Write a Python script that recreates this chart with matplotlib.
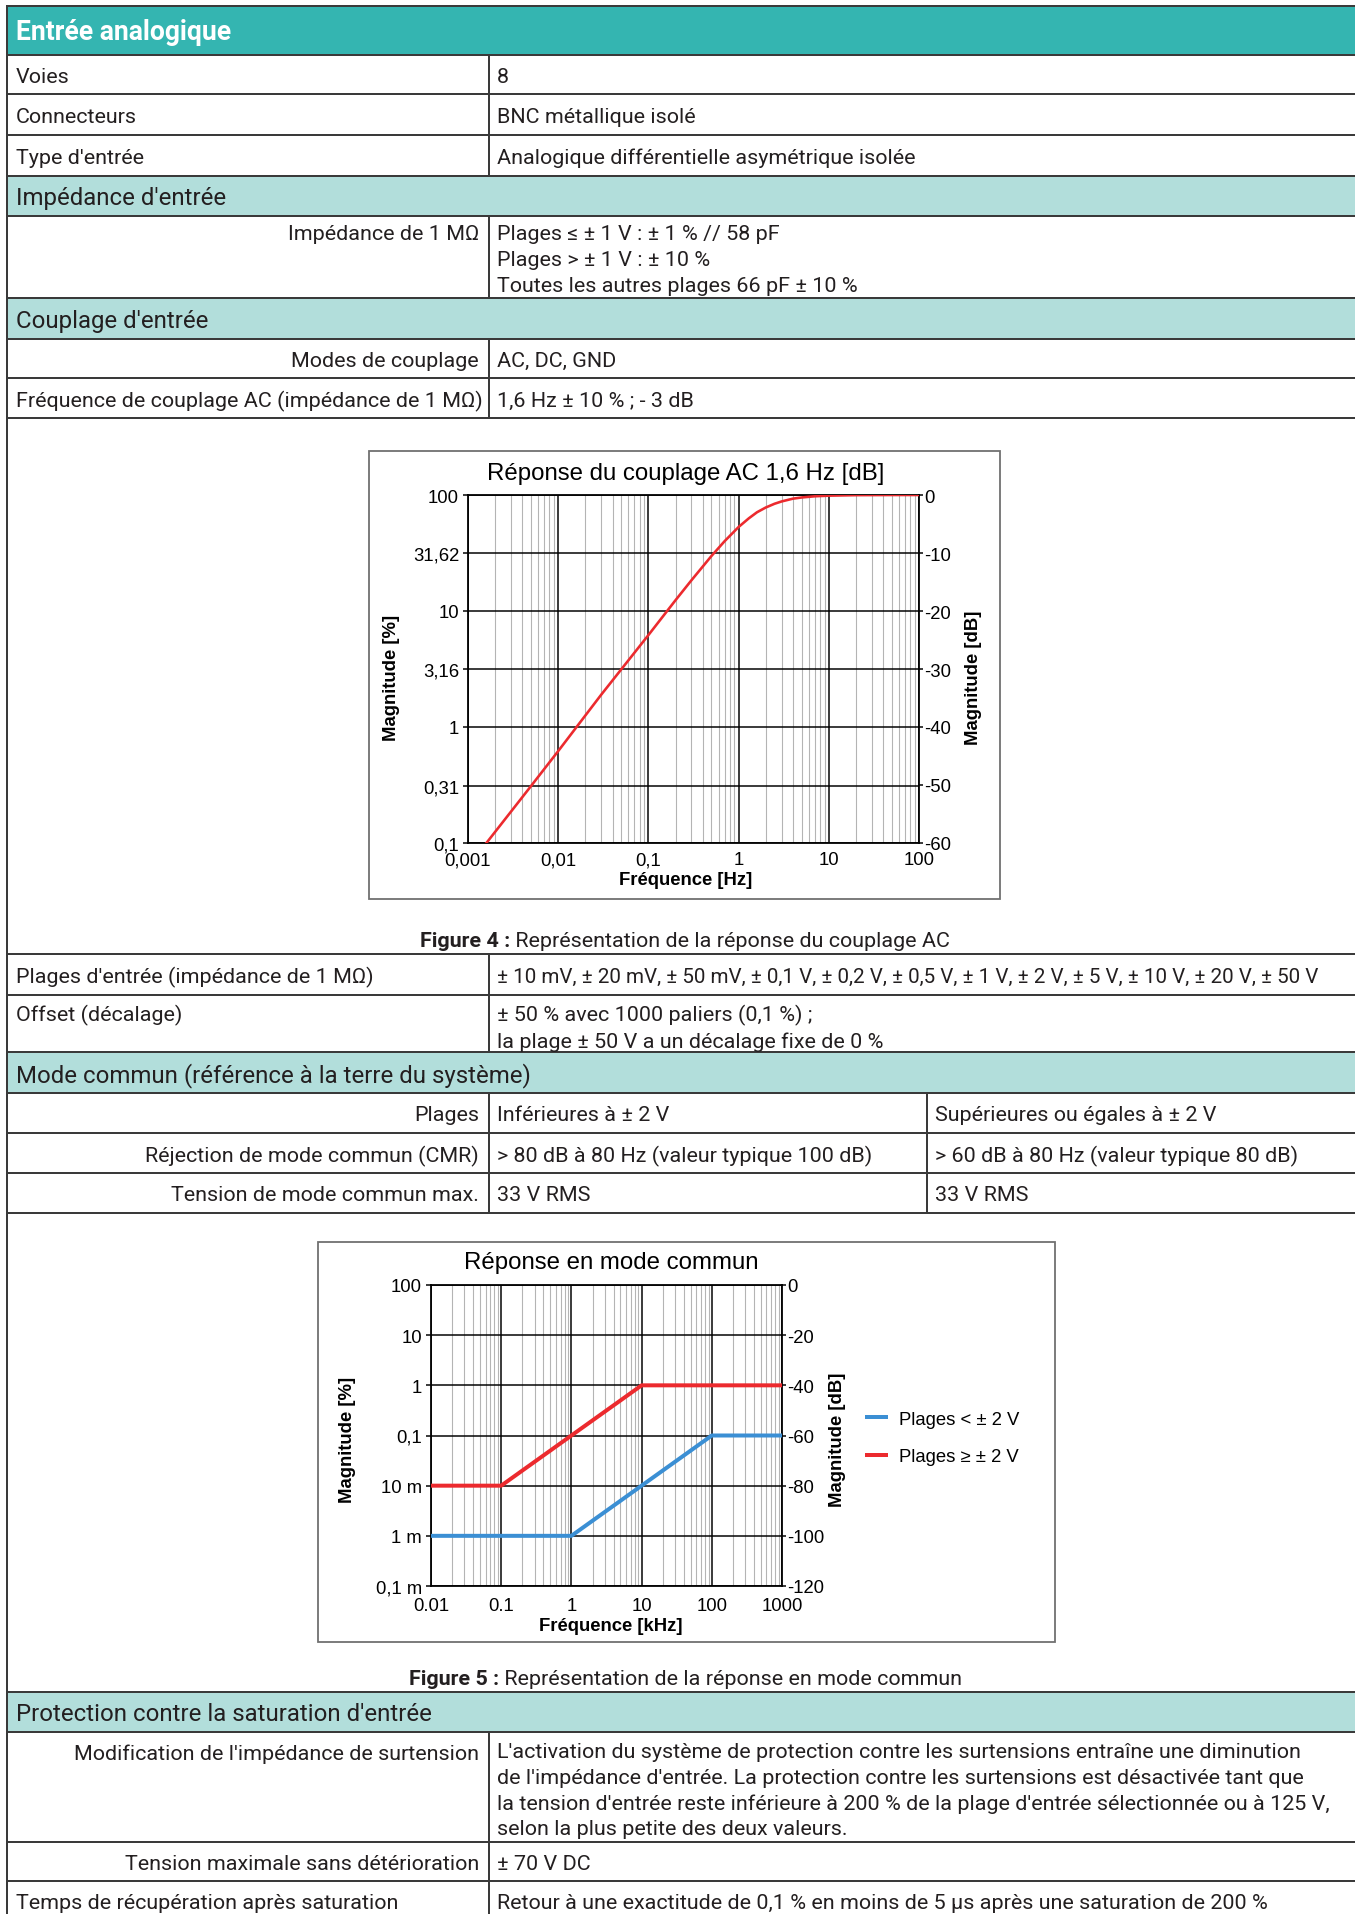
import matplotlib
matplotlib.use("Agg")
import matplotlib.pyplot as plt
from matplotlib.patches import Rectangle
from matplotlib.ticker import FixedLocator, LogLocator, NullFormatter, NullLocator

W, H = 1355, 1915
DPI = 100

# --- Figure 4 : réponse du couplage AC ---
freq_ac = [0.0016, 0.005, 0.01, 0.03, 0.1, 0.2, 0.3, 0.5, 0.7, 1.0, 1.3, 1.6,
           2.0, 2.5, 3.0, 4.0, 5.0, 7.0, 10, 20, 50, 100]
mag_ac = [0.1, 0.31, 0.62, 1.9, 6.2, 12.4, 18.4, 29.8, 40, 53, 63, 71,
          78, 84, 88, 93, 95.2, 97.5, 98.7, 99.7, 99.95, 100]
ac_xticks = [0.001, 0.01, 0.1, 1, 10, 100]
ac_xlabels = ["0,001", "0,01", "0,1", "1", "10", "100"]
ac_yticks = [0.1, 0.31, 1, 3.16, 10, 31.62, 100]
ac_ylabels = ["0,1", "0,31", "1", "3,16", "10", "31,62", "100"]
ac_db = [-60, -50, -40, -30, -20, -10, 0]

# --- Figure 5 : réponse en mode commun ---
freq_cm = [0.01, 0.1, 1, 10, 100, 1000]
cm_bas = [0.001, 0.001, 0.001, 0.01, 0.1, 0.1]     # Plages < ± 2 V
cm_haut = [0.01, 0.01, 0.1, 1, 1, 1]               # Plages ≥ ± 2 V
cm_xlabels = ["0.01", "0.1", "1", "10", "100", "1000"]
cm_yticks = [1e-4, 1e-3, 1e-2, 0.1, 1, 10, 100]
cm_ylabels = ["0,1 m", "1 m", "10 m", "0,1", "1", "10", "100"]
cm_db = [-120, -100, -80, -60, -40, -20, 0]
cm_legende = ["Plages < ± 2 V", "Plages ≥ ± 2 V"]

TEAL = "#34b5b1"
TEAL_CLAIR = "#b2dedb"
TRAIT = "#3a3a3a"
TEXTE = "#231f20"
ROUGE = "#ec2a2e"
BLEU = "#3b8fd4"
X0, C1, C2 = 7, 489, 927
POLICE = ["Roboto", "DejaVu Sans"]
POLICE_GRAPHE = ["Liberation Sans", "DejaVu Sans"]
CORPS = 21.5      # taille du texte du tableau (px)
SECTION = 24


def pt(px):
    return px * 72 / DPI


fig = plt.figure(figsize=(W / DPI, H / DPI), dpi=DPI)
fond = fig.add_axes([0, 0, 1, 1])
fond.set_xlim(0, W)
fond.set_ylim(H, 0)
fond.axis("off")


def bande(y0, y1, couleur):
    fond.add_patch(Rectangle((X0, y0), W - X0, y1 - y0, facecolor=couleur, edgecolor="none"))


def txt(x, y, s, ha="left", size=CORPS, **kw):
    kw.setdefault("color", TEXTE)
    fond.text(x, y + 2, s, ha=ha, va="center", fontsize=pt(size), family=POLICE, **kw)


# bandes de couleur
bande(7, 56, TEAL)
for y0, y1 in [(177, 217), (299, 340), (1053, 1094), (1693, 1733)]:
    bande(y0, y1, TEAL_CLAIR)

# traits du tableau
lw_t = pt(2)
for y in [7, 56, 95, 136, 177, 217, 299, 340, 379, 419, 955, 996, 1053,
          1094, 1134, 1174, 1214, 1693, 1733, 1843, 1882]:
    fond.plot([X0, W], [y, y], color=TRAIT, lw=lw_t, solid_capstyle="butt")
fond.plot([X0, X0], [7, H], color=TRAIT, lw=lw_t)
for y0, y1 in [(56, 177), (217, 299), (340, 419), (955, 1053), (1094, 1214), (1733, H)]:
    fond.plot([C1, C1], [y0, y1], color=TRAIT, lw=lw_t)
fond.plot([C2, C2], [1094, 1214], color=TRAIT, lw=lw_t)

# textes du tableau
GX, DX, TX, RX = 16, 497, 935, 479
txt(GX, 30, "Entrée analogique", size=26.5, weight="bold", color="white")
txt(GX, 75.5, "Voies"); txt(DX, 75.5, "8")
txt(GX, 115.5, "Connecteurs"); txt(DX, 115.5, "BNC métallique isolé")
txt(GX, 156.5, "Type d'entrée"); txt(DX, 156.5, "Analogique différentielle asymétrique isolée")
txt(GX, 197, "Impédance d'entrée", size=SECTION)
txt(RX, 233, "Impédance de 1 MΩ", ha="right")
txt(DX, 233, "Plages ≤ ± 1 V : ± 1 % // 58 pF")
txt(DX, 259, "Plages > ± 1 V : ± 10 %")
txt(DX, 285, "Toutes les autres plages 66 pF ± 10 %")
txt(GX, 319.5, "Couplage d'entrée", size=SECTION)
txt(RX, 359.5, "Modes de couplage", ha="right"); txt(DX, 359.5, "AC, DC, GND")
txt(GX, 399, "Fréquence de couplage AC (impédance de 1 MΩ)")
txt(DX, 399, "1,6 Hz ± 10 % ; - 3 dB")
txt(GX, 975.5, "Plages d'entrée (impédance de 1 MΩ)")
txt(DX, 975.5, "± 10 mV, ± 20 mV, ± 50 mV, ± 0,1 V, ± 0,2 V, ± 0,5 V, ± 1 V, ± 2 V, ± 5 V, ± 10 V, ± 20 V, ± 50 V",
    size=20.7)
txt(GX, 1013, "Offset (décalage)")
txt(DX, 1013, "± 50 % avec 1000 paliers (0,1 %) ;")
txt(DX, 1040, "la plage ± 50 V a un décalage fixe de 0 %")
txt(GX, 1073.5, "Mode commun (référence à la terre du système)", size=SECTION)
txt(RX, 1114, "Plages", ha="right")
txt(DX, 1114, "Inférieures à ± 2 V"); txt(TX, 1114, "Supérieures ou égales à ± 2 V")
txt(RX, 1154, "Réjection de mode commun (CMR)", ha="right")
txt(DX, 1154, "> 80 dB à 80 Hz (valeur typique 100 dB)")
txt(TX, 1154, "> 60 dB à 80 Hz (valeur typique 80 dB)")
txt(RX, 1194, "Tension de mode commun max.", ha="right")
txt(DX, 1194, "33 V RMS"); txt(TX, 1194, "33 V RMS")
txt(GX, 1713, "Protection contre la saturation d'entrée", size=SECTION)
txt(RX, 1752, "Modification de l'impédance de surtension", ha="right")
for i, ligne in enumerate([
        "L'activation du système de protection contre les surtensions entraîne une diminution",
        "de l'impédance d'entrée. La protection contre les surtensions est désactivée tant que",
        "la tension d'entrée reste inférieure à 200 % de la plage d'entrée sélectionnée ou à 125 V,",
        "selon la plus petite des deux valeurs."]):
    txt(DX, 1751 + i * 25.4, ligne)
txt(RX, 1862.5, "Tension maximale sans détérioration", ha="right")
txt(DX, 1862.5, "± 70 V DC")
txt(GX, 1902, "Temps de récupération après saturation")
txt(DX, 1902, "Retour à une exactitude de 0,1 % en moins de 5 µs après une saturation de 200 %")

# légendes des figures
for x, y, num, suite in [(420, 940, "Figure 4 :", " Représentation de la réponse du couplage AC"),
                         (409, 1678, "Figure 5 :", " Représentation de la réponse en mode commun")]:
    t = fond.text(x, y + 2, num, ha="left", va="center", fontsize=pt(CORPS),
                  family=POLICE, weight="bold", color=TEXTE)
    fond.annotate(suite, xy=(1, 0.5), xycoords=t, ha="left", va="center",
                  fontsize=pt(CORPS), family=POLICE, color=TEXTE)

# cadres des graphes
for x0, y0, x1, y1 in [(369, 452, 1000, 900), (318, 1243, 1055, 1643)]:
    fond.add_patch(Rectangle((x0, y0), x1 - x0, y1 - y0, facecolor="white",
                             edgecolor="#707070", lw=pt(1.8)))


def axe_px(g, h, d, b):
    return fig.add_axes([g / W, 1 - b / H, (d - g) / W, (b - h) / H])


def style_log(ax, xt, xl, yt, yl, xlim, ylim, twin_ticks, twin_lim, xpad):
    ax.set_xscale("log")
    ax.set_yscale("log")
    ax.set_xlim(*xlim)
    ax.set_ylim(*ylim)
    ax.xaxis.set_major_locator(FixedLocator(xt))
    ax.set_xticklabels(xl)
    ax.xaxis.set_minor_locator(LogLocator(base=10, subs=range(2, 10), numticks=50))
    ax.xaxis.set_minor_formatter(NullFormatter())
    ax.yaxis.set_major_locator(FixedLocator(yt))
    ax.set_yticklabels(yl)
    ax.yaxis.set_minor_locator(NullLocator())
    ax.grid(which="major", color="black", lw=pt(1.5))
    ax.grid(which="minor", axis="x", color="#b4b4b4", lw=pt(1.1))
    ax.set_axisbelow(True)
    ax.tick_params(which="minor", length=0)
    ax.tick_params(axis="x", which="major", length=0, pad=pt(xpad), labelsize=pt(18.5))
    ax.tick_params(axis="y", which="major", length=pt(5), width=pt(1.5), pad=pt(4), labelsize=pt(18.5))
    for s in ax.spines.values():
        s.set_linewidth(pt(1.8))
    for lab in ax.get_xticklabels() + ax.get_yticklabels():
        lab.set_family(POLICE_GRAPHE)
    tw = ax.twinx()
    tw.set_ylim(*twin_lim)
    tw.set_yticks(twin_ticks, [str(v) for v in twin_ticks])
    tw.tick_params(length=pt(4), width=pt(1.5), pad=pt(1), labelsize=pt(18.5))
    for lab in tw.get_yticklabels():
        lab.set_family(POLICE_GRAPHE)
    for s in tw.spines.values():
        s.set_visible(False)
    return tw


fkw = dict(family=POLICE_GRAPHE, color="black")

# Figure 4
ax1 = axe_px(468, 496, 919, 844)
tw1 = style_log(ax1, ac_xticks, ac_xlabels, ac_yticks, ac_ylabels,
                (0.001, 100), (0.1, 100), ac_db, (-60, 0), xpad=8)
ax1.plot(freq_ac, mag_ac, color=ROUGE, lw=pt(2.6), zorder=5)
fond.text(686, 474, "Réponse du couplage AC 1,6 Hz [dB]", ha="center", va="center",
          fontsize=pt(24), **fkw)
fond.text(686, 881, "Fréquence [Hz]", ha="center", va="center", fontsize=pt(18.5),
          weight="bold", **fkw)
fond.text(391, 678, "Magnitude [%]", ha="center", va="center", rotation=90,
          fontsize=pt(18.5), weight="bold", **fkw)
fond.text(973, 678, "Magnitude [dB]", ha="center", va="center", rotation=90,
          fontsize=pt(18.5), weight="bold", **fkw)

# Figure 5
ax2 = axe_px(431, 1286, 782, 1587)
tw2 = style_log(ax2, freq_cm, cm_xlabels, cm_yticks, cm_ylabels,
                (0.01, 1000), (1e-4, 100), cm_db, (-120, 0), xpad=11)
l_bas, = ax2.plot(freq_cm, cm_bas, color=BLEU, lw=pt(4), zorder=5, solid_capstyle="butt")
l_haut, = ax2.plot(freq_cm, cm_haut, color=ROUGE, lw=pt(4), zorder=5, solid_capstyle="butt")
tw2.legend([l_bas, l_haut], cm_legende, loc="upper left", bbox_to_anchor=(1.236, 0.582),
           frameon=False, borderpad=0, borderaxespad=0, handlelength=1.25,
           handletextpad=0.6, labelspacing=1.1,
           prop={"family": POLICE_GRAPHE, "size": pt(18.5)})
fond.text(611, 1263, "Réponse en mode commun", ha="center", va="center",
          fontsize=pt(24), **fkw)
fond.text(611, 1627, "Fréquence [kHz]", ha="center", va="center", fontsize=pt(18.5),
          weight="bold", **fkw)
fond.text(347, 1440, "Magnitude [%]", ha="center", va="center", rotation=90,
          fontsize=pt(18.5), weight="bold", **fkw)
fond.text(838, 1440, "Magnitude [dB]", ha="center", va="center", rotation=90,
          fontsize=pt(18.5), weight="bold", **fkw)

fig.savefig("out.png", dpi=DPI, facecolor="white")
